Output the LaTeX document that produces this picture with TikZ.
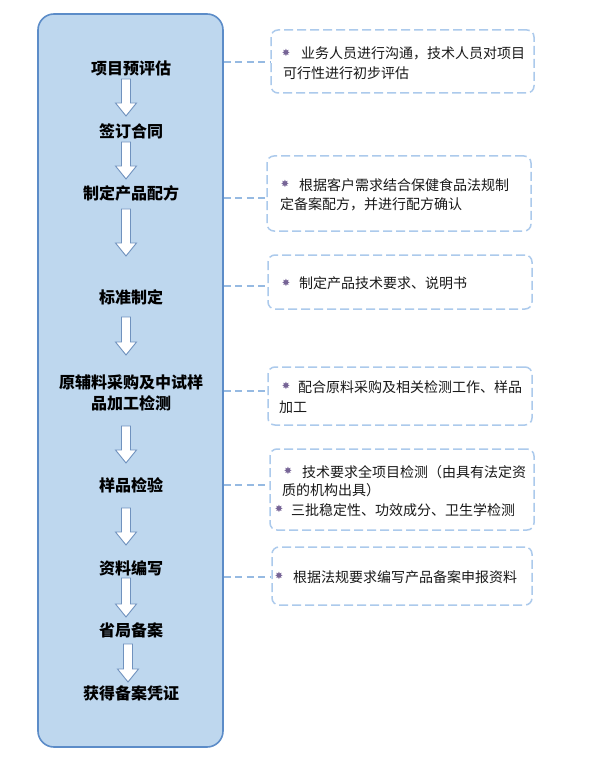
\documentclass[tikz,border=0pt]{standalone}
\usepackage{fontspec}
\newfontfamily\cjk{Noto Sans CJK SC}
\newfontfamily\symfont{DejaVu Sans}
\definecolor{panelfill}{RGB}{190,215,238}
\definecolor{paneldraw}{RGB}{92,140,200}
\definecolor{boxdash}{RGB}{172,202,236}
\definecolor{linkdash}{RGB}{150,186,226}
\definecolor{arrowdraw}{RGB}{112,146,190}
\definecolor{bulletc}{RGB}{118,100,150}
\definecolor{notetextc}{RGB}{25,25,25}
\newcommand\blkarrow[3]{%
  \draw[blockarr] (#1-4.5,#2) -- (#1+4.5,#2) -- (#1+4.5,#3-13) -- (#1+10.5,#3-13)
    -- (#1,#3) -- (#1-10.5,#3-13) -- (#1-4.5,#3-13) -- cycle;}
\begin{document}
\begin{tikzpicture}[x=1pt,y=-1pt,
  panel/.style={draw=paneldraw, line width=1.6pt, fill=panelfill, rounded corners=16pt, inner sep=0},
  steptext/.style={font=\cjk\bfseries\fontsize{16}{21}\selectfont, inner sep=0, text=black, align=center},
  notebox/.style={draw=boxdash, line width=1.5pt, dash pattern=on 9pt off 4pt, rounded corners=7pt, fill=white, inner sep=0},
  notetext/.style={font=\cjk\fontsize{14}{18}\selectfont, inner sep=0, anchor=west, text=notetextc},
  bullet/.style={font=\symfont\fontsize{10}{10}\selectfont, inner sep=0, text=bulletc},
  dashlink/.style={draw=linkdash, line width=1.1pt, dash pattern=on 7pt off 4.5pt},
  blockarr/.style={draw=arrowdraw, line width=0.9pt, fill=white, line join=miter}]
\useasboundingbox (0,0) rectangle (598,759);
\fill[white] (0,0) rectangle (598,759);

% main panel
\node[panel, minimum width=185pt, minimum height=733pt] (panel) at (130.5,380.5) {};

% steps
\node[steptext] (s1) at (131,68) {项目预评估};
\node[steptext] (s2) at (131,131) {签订合同};
\node[steptext] (s3) at (131,193) {制定产品配方};
\node[steptext] (s4) at (131,297) {标准制定};
\node[steptext] (s5) at (131,392.5) {原辅料采购及中试样\\品加工检测};
\node[steptext] (s6) at (131,485) {样品检验};
\node[steptext] (s7) at (131,568) {资料编写};
\node[steptext] (s8) at (131,630) {省局备案};
\node[steptext] (s9) at (131,693) {获得备案凭证};

% block arrows
\blkarrow{126}{79}{116}
\blkarrow{126}{142}{179}
\blkarrow{126}{209}{256}
\blkarrow{126}{317}{355}
\blkarrow{126}{426}{463}
\blkarrow{126}{508}{545}
\blkarrow{126}{578}{617}
\blkarrow{128}{644}{682}

% note boxes
\node[notebox, minimum width=263pt, minimum height=63pt] (n1) at (402.5,61.5) {};
\node[notebox, minimum width=264pt, minimum height=75pt] (n2) at (399,193.5) {};
\node[notebox, minimum width=264pt, minimum height=54pt] (n3) at (400,282) {};
\node[notebox, minimum width=264pt, minimum height=58pt] (n4) at (400,396) {};
\node[notebox, minimum width=264pt, minimum height=81pt] (n5) at (402,489.5) {};
\node[notebox, minimum width=260pt, minimum height=58pt] (n6) at (402,576) {};

% dashed links
\coordinate (y1) at (0,62);
\coordinate (y2) at (0,198);
\coordinate (y3) at (0,286);
\coordinate (y4) at (0,391);
\coordinate (y5) at (0,485);
\coordinate (y6) at (0,577);
\draw[dashlink] (panel.east |- y1) -- (n1.west |- y1);
\draw[dashlink] (panel.east |- y2) -- (n2.west |- y2);
\draw[dashlink] (panel.east |- y3) -- (n3.west |- y3);
\draw[dashlink] (panel.east |- y4) -- (n4.west |- y4);
\draw[dashlink] (panel.east |- y5) -- (n5.west |- y5);
\draw[dashlink] (panel.east |- y6) -- (n6.west |- y6);

% note texts
\node[bullet] (b1) at (286,53) {✸};
\node[notetext] (t1a) at (301,53) {业务人员进行沟通，技术人员对项目};
\node[notetext] (t1b) at (283,73) {可行性进行初步评估};

\node[bullet] (b2) at (285,184) {✸};
\node[notetext] (t2a) at (299,185) {根据客户需求结合保健食品法规制};
\node[notetext] (t2b) at (280,204) {定备案配方，并进行配方确认};

\node[bullet] (b3) at (286,283) {✸};
\node[notetext] (t3a) at (299,283) {制定产品技术要求、说明书};

\node[bullet] (b4) at (286,386) {✸};
\node[notetext] (t4a) at (298,387) {配合原料采购及相关检测工作、样品};
\node[notetext] (t4b) at (279,407) {加工};

\node[bullet] (b5) at (288,471) {✸};
\node[notetext] (t5a) at (302,472) {技术要求全项目检测（由具有法定资};
\node[notetext] (t5b) at (282,490) {质的机构出具）};
\node[bullet] (b5c) at (279,509) {✸};
\node[notetext] (t5c) at (291,510) {三批稳定性、功效成分、卫生学检测};

\node[bullet] (b6) at (279,576) {✸};
\node[notetext] (t6a) at (293,577) {根据法规要求编写产品备案申报资料};
\end{tikzpicture}
\end{document}
